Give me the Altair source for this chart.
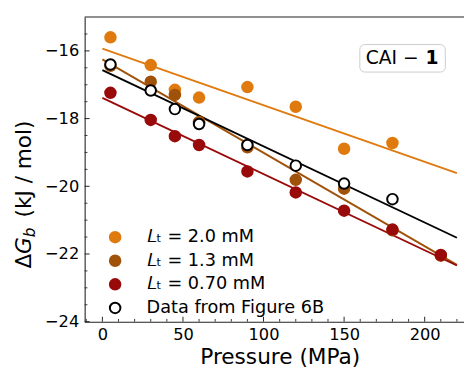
import altair as alt
import pandas as pd

# ---------------- data ----------------
series_labels = ["𝐿ₜ = 2.0 mM", "𝐿ₜ = 1.3 mM", "𝐿ₜ = 0.70 mM", "Data from Figure 6B"]
fill_colors = ["#DF7A0E", "#A0520A", "#990A0A", "#FFFFFF"]
stroke_colors = ["#DF7A0E", "#A0520A", "#990A0A", "#000000"]

p_20 = [5, 30, 45, 60, 90, 120, 150, 180]
g_20 = [-15.60, -16.42, -17.15, -17.38, -17.07, -17.65, -18.89, -18.72]

p_13 = [5, 30, 45, 60, 90, 120, 150, 180, 210]
g_13 = [-16.44, -16.91, -17.30, -18.10, -18.85, -19.81, -20.07, -21.30, -22.05]

p_07 = [5, 30, 45, 60, 90, 120, 150, 180, 210]
g_07 = [-17.24, -18.04, -18.52, -18.78, -19.56, -20.18, -20.72, -21.28, -22.03]

p_6b = [5, 30, 45, 60, 90, 120, 150, 180]
g_6b = [-16.40, -17.17, -17.72, -18.16, -18.78, -19.39, -19.92, -20.38]

fit_p = [0, 220]
fit_20 = [-15.93, -19.61]
fit_13 = [-16.25, -22.32]
fit_07 = [-17.39, -22.34]
fit_6b = [-16.57, -21.52]

x_major = [0, 50, 100, 150, 200]
x_minor = [-10, 10, 20, 30, 40, 60, 70, 80, 90, 110, 120, 130, 140, 160, 170, 180, 190, 210, 220]
y_major = [-24, -22, -20, -18, -16]
y_minor = [-23.5, -23, -22.5, -21.5, -21, -20.5, -19.5, -19, -18.5, -17.5, -17, -16.5, -15.5]

# ---------------- tables ----------------
pts = []
for lab, ps, gs in zip(series_labels, [p_20, p_13, p_07, p_6b], [g_20, g_13, g_07, g_6b]):
    for p, g in zip(ps, gs):
        pts.append({"series": lab, "P": p, "G": g})
pts = pd.DataFrame(pts)

fits = []
for lab, gs in zip(series_labels, [fit_20, fit_13, fit_07, fit_6b]):
    for p, g in zip(fit_p, gs):
        fits.append({"series": lab, "P": p, "G": g})
fits = pd.DataFrame(fits)

W, H = 386, 310
FONT = "DejaVu Sans"
AX = "#222222"
MSIZE = 115

xs = alt.Scale(domain=[-11, 224.4], nice=False, zero=False)
ys = alt.Scale(domain=[-24, -15], nice=False, zero=False)

line_color = alt.Scale(domain=series_labels, range=stroke_colors)

lines = alt.Chart(fits).mark_line(strokeWidth=1.9).encode(
    x=alt.X("P:Q", scale=xs,
            axis=alt.Axis(values=x_major, ticks=False, grid=False, labelFontSize=16.5,
                          labelPadding=5, labelFont=FONT, labelColor="black", labelFlush=False,
                          domainColor=AX, domainWidth=1.1,
                          title="Pressure (MPa)", titleFont=FONT, titleFontSize=22,
                          titleFontWeight="normal", titleColor="black",
                          titleX=198.5, titleY=43, titleAlign="center", titleBaseline="alphabetic")),
    y=alt.Y("G:Q", scale=ys,
            axis=alt.Axis(values=y_major, format="d", ticks=False, grid=False, labelFontSize=16.5,
                          labelExpr="replace(datum.label, '-', '\u2212')",
                          labelPadding=6, labelFont=FONT, labelColor="black",
                          domainColor=AX, domainWidth=1.1, title=None)),
    color=alt.Color("series:N", scale=line_color, legend=None),
    detail="series:N",
)

points = alt.Chart(pts).mark_point(shape="circle", filled=True, opacity=1, size=MSIZE, strokeWidth=2).encode(
    x=alt.X("P:Q", scale=xs),
    y=alt.Y("G:Q", scale=ys),
    fill=alt.Fill("series:N", scale=alt.Scale(domain=series_labels, range=fill_colors),
                  legend=alt.Legend(orient="none", legendX=22, legendY=215, title=None,
                                    labelFont=FONT, labelFontSize=18, labelColor="black",
                                    symbolSize=MSIZE, symbolStrokeWidth=2, symbolType="circle",
                                    labelOffset=23, rowPadding=4, padding=0, labelLimit=400)),
    stroke=alt.Stroke("series:N", scale=alt.Scale(domain=series_labels, range=stroke_colors)),
)

xt_major = alt.Chart(pd.DataFrame({"v": x_major})).mark_rule(color=AX, strokeWidth=1).encode(
    x=alt.X("v:Q", scale=xs), y=alt.value(H), y2=alt.value(H - 5))
xt_minor = alt.Chart(pd.DataFrame({"v": x_minor})).mark_rule(color=AX, strokeWidth=0.9).encode(
    x=alt.X("v:Q", scale=xs), y=alt.value(H), y2=alt.value(H - 2.8))
yt_major = alt.Chart(pd.DataFrame({"v": y_major})).mark_rule(color=AX, strokeWidth=1).encode(
    y=alt.Y("v:Q", scale=ys), x=alt.value(0), x2=alt.value(5))
yt_minor = alt.Chart(pd.DataFrame({"v": y_minor})).mark_rule(color=AX, strokeWidth=0.9).encode(
    y=alt.Y("v:Q", scale=ys), x=alt.value(0), x2=alt.value(2.8))

one = alt.Data(values=[{}])
top_spine = alt.Chart(one).mark_rule(color=AX, strokeWidth=1.1).encode(
    x=alt.value(0), x2=alt.value(W), y=alt.value(0))

# y-axis title pieces: Δ G_b (kJ / mol)
yt_kw = dict(angle=270, align="left", baseline="alphabetic", font=FONT, color="black")
t_delta = alt.Chart(one).mark_text(text="Δ", fontSize=22, **yt_kw).encode(
    x=alt.value(-55), y=alt.value(256))
t_g = alt.Chart(one).mark_text(text="G", fontSize=22, fontStyle="italic", **yt_kw).encode(
    x=alt.value(-55), y=alt.value(241))
t_b = alt.Chart(one).mark_text(text="b", fontSize=15.5, fontStyle="italic", **yt_kw).encode(
    x=alt.value(-50.5), y=alt.value(224))
t_unit = alt.Chart(one).mark_text(text="(kJ / mol)", fontSize=22, **yt_kw).encode(
    x=alt.value(-55), y=alt.value(204))

# annotation box
box = alt.Chart(one).mark_rect(fill="white", stroke="#CCCCCC", strokeWidth=1, cornerRadius=5).encode(
    x=alt.value(280), x2=alt.value(367), y=alt.value(28), y2=alt.value(56))
box_t1 = alt.Chart(one).mark_text(text="CAI −", fontSize=19, font=FONT, align="left",
                                  baseline="middle", color="black").encode(
    x=alt.value(286), y=alt.value(42))
box_t2 = alt.Chart(one).mark_text(text="1", fontSize=19, font=FONT, fontWeight="bold", align="right",
                                  baseline="middle", color="black").encode(
    x=alt.value(360), y=alt.value(42))

chart = alt.layer(
    lines, xt_major, xt_minor, yt_major, yt_minor, top_spine, points,
    t_delta, t_g, t_b, t_unit, box, box_t1, box_t2,
).resolve_scale(color="independent").properties(
    width=W, height=H,
    autosize=alt.AutoSizeParams(type="none"),
    padding={"left": 78, "top": 6, "right": 0, "bottom": 48},
).configure_view(stroke=None)

chart.save("out.html", embed_options={"renderer": "svg", "actions": False})
